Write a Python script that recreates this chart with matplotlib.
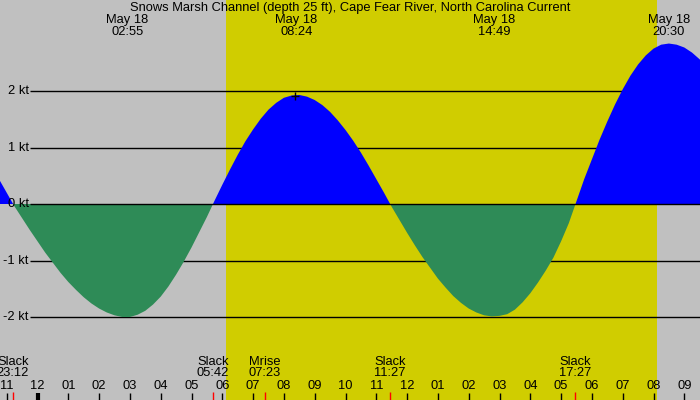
import matplotlib
matplotlib.use("Agg")
import matplotlib.pyplot as plt
import matplotlib.transforms as mtransforms
import numpy as np

# current speed (kt), read every quarter hour, hours from midnight May 18
hours = [h / 4 for h in range(-6, 88)]
speeds = [0.68, 0.44, 0.20, -0.04, -0.25, -0.46,
          -0.66, -0.86, -1.04, -1.22, -1.38, -1.52, -1.65, -1.76,
          -1.85, -1.92, -1.97, -2.00, -2.00, -1.96, -1.89, -1.78,
          -1.64, -1.46, -1.25, -1.02, -0.77, -0.50, -0.23, 0.06,
          0.34, 0.61, 0.87, 1.11, 1.32, 1.51, 1.67, 1.79,
          1.88, 1.92, 1.93, 1.90, 1.84, 1.75, 1.63, 1.48,
          1.31, 1.12, 0.91, 0.68, 0.44, 0.20, -0.05, -0.28,
          -0.51, -0.73, -0.94, -1.13, -1.32, -1.48, -1.63, -1.75,
          -1.85, -1.92, -1.97, -1.99, -1.98, -1.95, -1.87, -1.74,
          -1.58, -1.39, -1.18, -0.95, -0.66, -0.34, 0.05, 0.44,
          0.79, 1.14, 1.46, 1.76, 2.03, 2.27, 2.47, 2.63,
          2.75, 2.82, 2.84, 2.82, 2.77, 2.68, 2.56, 2.40]

# max flood / max ebb events (top labels)
peak_hours = [2.917, 8.4, 14.817, 20.5]
peak_labels = ["02:55", "08:24", "14:49", "20:30"]
peak_date = "May 18"

# slack / moonrise events (bottom labels)
event_hours = [-0.8, 5.7, 7.383, 11.45, 17.45]
event_names = ["Slack", "Slack", "Mrise", "Slack", "Slack"]
event_labels = ["23:12", "05:42", "07:23", "11:27", "17:27"]

sunrise, sunset = 6.12, 20.11
grid_levels = [2, 1, 0, -1, -2]

title = "Snows Marsh Channel (depth 25 ft), Cape Fear River, North Carolina Current"

plt.rcParams['font.family'] = ['Liberation Sans', 'DejaVu Sans']
FS = 9.3

# pixel layout: x = 37.5 + 30.8*h, y = 204 - 56.5*v
W, H = 700, 400
fig = plt.figure(figsize=(W / 100, H / 100), dpi=100)
fig.patch.set_facecolor('#c0c0c0')
ax = fig.add_axes([0, 0, 1, 1])
ax.set_facecolor('#c0c0c0')
ax.set_xlim(-37.5 / 30.8, (W - 37.5) / 30.8)
ax.set_ylim((204 - H) / 56.5, 204 / 56.5)
ax.axis('off')

ax.axvspan(sunrise, sunset, color='#d0cd00', lw=0, zorder=0)

x_grid0 = (30 - 37.5) / 30.8
for lv in grid_levels:
    ax.hlines(lv, x_grid0, 30, color='black', lw=1, zorder=1 if lv else 4)
    ax.text(-0.29, lv, f"{lv} kt", ha='right', va='center', fontsize=FS, zorder=5)

t = np.array(hours)
v = np.array(speeds)
ax.fill_between(t, v, 0, where=v >= 0, interpolate=True, color='#0000ff', lw=0, zorder=2)
ax.fill_between(t, v, 0, where=v <= 0, interpolate=True, color='#2e8b57', lw=0, zorder=2)

ax.plot([8.35], [1.92], marker='+', ms=5.5, mew=1, color='black', zorder=5)

# texts positioned with data x and pixel-based figure y
trans = mtransforms.blended_transform_factory(ax.transData, fig.transFigure)


def fy(ypx):
    return 1 - ypx / H


ax.text(((W / 2) - 37.5) / 30.8, fy(7.5), title, transform=trans,
        ha='center', va='center', fontsize=FS)

for h, lab in zip(peak_hours, peak_labels):
    ax.text(h, fy(20), peak_date, transform=trans, ha='center', va='center', fontsize=FS)
    ax.text(h, fy(31.7), lab, transform=trans, ha='center', va='center', fontsize=FS)

for h, name, lab in zip(event_hours, event_names, event_labels):
    ax.text(h, fy(361.7), name, transform=trans, ha='center', va='center', fontsize=FS)
    ax.text(h, fy(373.3), lab, transform=trans, ha='center', va='center', fontsize=FS)
    ax.vlines(h, fy(400), fy(392), transform=trans, color='red', lw=1, zorder=6)

for h in range(-1, 22):
    ax.text(h, fy(385.7), f"{(h % 12) or 12:02d}", transform=trans,
            ha='center', va='center', fontsize=FS)
    ax.vlines(h, fy(400), fy(393), transform=trans, color='black',
              lw=3 if h == 0 else 1, zorder=6)

fig.savefig('out.png', dpi=100, facecolor=fig.get_facecolor())
